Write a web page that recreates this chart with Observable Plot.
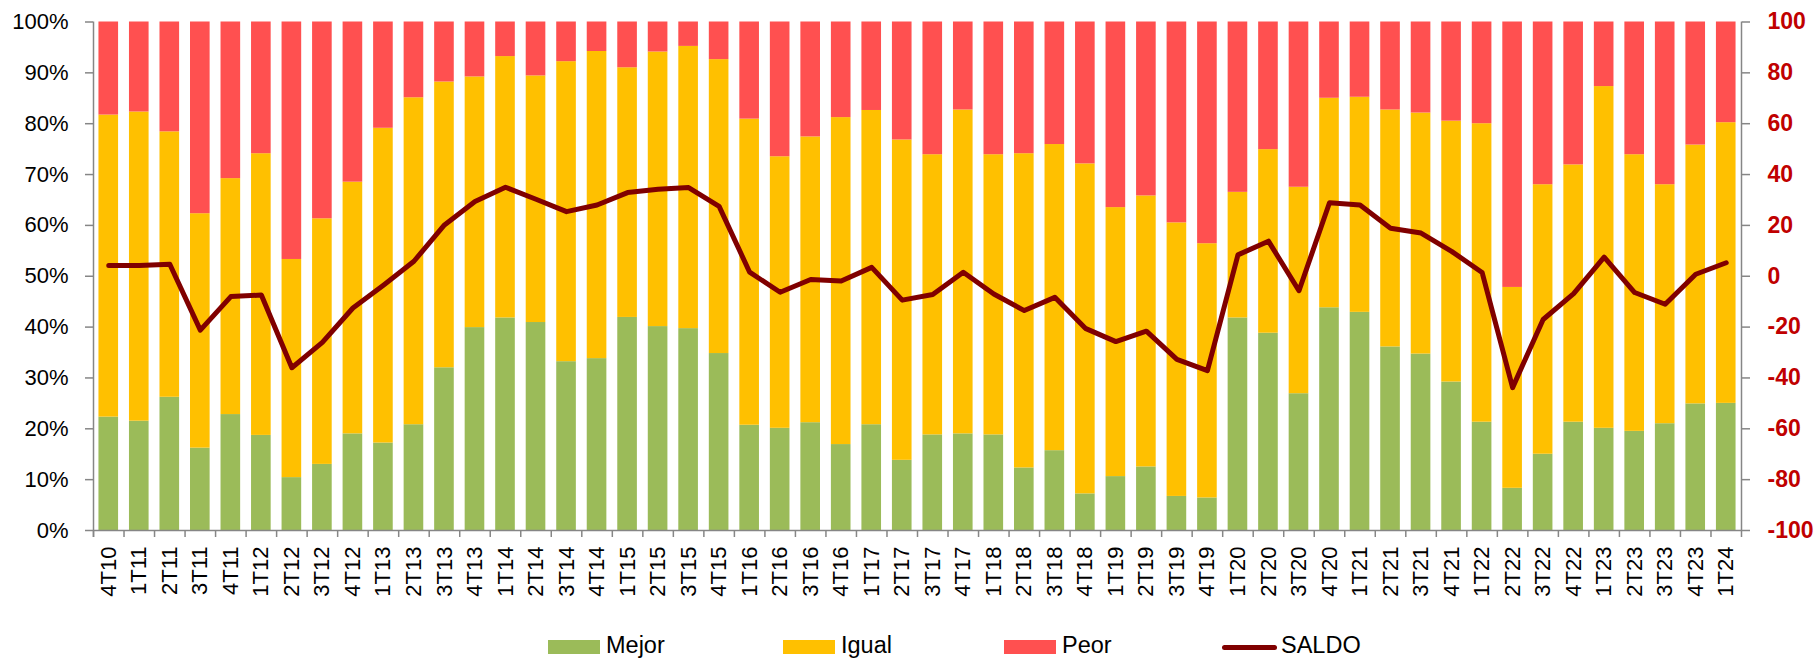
<!DOCTYPE html>
<html>
<head>
<meta charset="utf-8">
<script src="https://cdn.jsdelivr.net/npm/d3@7"></script>
<script src="https://cdn.jsdelivr.net/npm/@observablehq/plot@0.6"></script>
<style>
  html, body { margin: 0; padding: 0; background: #fff; }
  #chart svg { display: block; }
  #legend { position: relative; width: 1817px; height: 30px; font-family: "Liberation Sans", Arial, sans-serif; overflow: hidden; }
  #legend .sw { position: absolute; top: 12px; width: 52px; height: 14px; }
  #legend .ln { position: absolute; top: 17px; width: 55px; height: 5px; border-radius: 3px; background: #800000; }
  #legend .tx { position: absolute; top: 4.5px; font-size: 23.5px; line-height: 24px; color: #000; white-space: nowrap; }
</style>
</head>
<body>
<div id="chart"></div>
<div id="legend">
  <div class="sw" style="left:548px;background:#9BBB59"></div><div class="tx" style="left:606px">Mejor</div>
  <div class="sw" style="left:783px;background:#FFC000"></div><div class="tx" style="left:841px">Igual</div>
  <div class="sw" style="left:1004px;background:#FF5050"></div><div class="tx" style="left:1062px">Peor</div>
  <div class="ln" style="left:1222px"></div><div class="tx" style="left:1281px">SALDO</div>
</div>
<script>
const quarters = ["4T10","1T11","2T11","3T11","4T11","1T12","2T12","3T12","4T12","1T13","2T13","3T13","4T13","1T14","2T14","3T14","4T14","1T15","2T15","3T15","4T15","1T16","2T16","3T16","4T16","1T17","2T17","3T17","4T17","1T18","2T18","3T18","4T18","1T19","2T19","3T19","4T19","1T20","2T20","3T20","4T20","1T21","2T21","3T21","4T21","1T22","2T22","3T22","4T22","1T23","2T23","3T23","4T23","1T24"];
const mejor = [22.3,21.5,26.2,16.2,22.8,18.7,10.4,13.0,19.0,17.2,20.8,32.0,39.9,41.8,40.9,33.2,33.8,41.9,40.1,39.7,34.8,20.7,20.1,21.2,16.9,20.8,13.8,18.8,19.0,18.8,12.3,15.7,7.2,10.6,12.5,6.7,6.4,41.8,38.8,26.9,43.8,42.9,36.1,34.7,29.2,21.3,8.3,15.0,21.3,20.1,19.5,21.0,24.9,25.0];
const igual = [59.4,60.8,52.2,46.1,46.4,55.4,42.9,48.3,49.5,61.9,64.3,56.2,49.3,51.4,48.5,59.0,60.4,49.1,54.0,55.5,57.8,60.2,53.4,56.2,64.3,61.8,63.0,55.1,63.7,55.1,61.8,60.2,64.9,52.9,53.3,53.8,50.0,24.7,36.1,40.6,41.2,42.3,46.6,47.4,51.3,58.7,39.5,53.0,50.6,67.2,54.4,47.0,50.9,55.2];
const peor = [18.3,17.7,21.6,37.7,30.8,25.9,46.7,38.7,31.5,20.9,14.9,11.8,10.8,6.8,10.6,7.8,5.8,9.0,5.9,4.8,7.4,19.1,26.5,22.6,18.8,17.4,23.2,26.1,17.3,26.1,25.9,24.1,27.9,36.5,34.2,39.5,43.6,33.5,25.1,32.5,15.0,14.8,17.3,17.9,19.5,20.0,52.2,32.0,28.1,12.7,26.1,32.0,24.2,19.8];
const saldo = [4.2,4.2,4.7,-21.2,-8.0,-7.4,-36.0,-26.0,-12.5,-3.5,5.9,20.2,29.4,35.0,30.3,25.4,28.0,32.9,34.2,34.9,27.5,1.6,-6.3,-1.3,-1.9,3.5,-9.4,-7.2,1.6,-7.0,-13.5,-8.3,-20.5,-25.7,-21.6,-32.7,-37.1,8.4,13.8,-5.7,28.9,28.0,18.9,17.0,9.8,1.5,-43.8,-17.0,-6.8,7.5,-6.4,-11.0,0.8,5.3];
const series = ["Mejor","Igual","Peor"];
const seriesColors = ["#9BBB59","#FFC000","#FF5050"];
const leftTicks = [0,10,20,30,40,50,60,70,80,90,100];

const W = 1817, H = 628, mL = 93, mR = 76, mT = 21.5, mB = 98;
const step = (W - mL - mR) / quarters.length;
const axisGray = "#868686";

const stacked = [];
quarters.forEach((q, i) => {
  stacked.push({q, cat: "Mejor", v: mejor[i]});
  stacked.push({q, cat: "Igual", v: igual[i]});
  stacked.push({q, cat: "Peor", v: peor[i]});
});
const lineData = quarters.map((q, i) => ({q, s: saldo[i]}));
const last = quarters[quarters.length - 1];

const chart = Plot.plot({
  width: W, height: H,
  marginLeft: mL, marginRight: mR, marginTop: mT, marginBottom: mB,
  style: {fontFamily: "'Liberation Sans', Arial, sans-serif", background: "#fff"},
  x: {domain: quarters, paddingInner: 0.357, paddingOuter: 0.1785, round: false, label: null},
  y: {domain: [0, 100], label: null},
  color: {domain: series, range: seriesColors},
  marks: [
    Plot.barY(stacked, {x: "q", y: "v", z: "cat", fill: "cat", order: series}),
    Plot.line(lineData, {x: "q", y: d => (d.s + 100) / 2, stroke: "#800000", strokeWidth: 5, strokeLinejoin: "round", strokeLinecap: "round"}),
    // left and right axis lines
    Plot.ruleX([quarters[0]], {x: d => d, dx: -step / 2, y1: 0, y2: 100, insetTop: 7, stroke: axisGray, strokeWidth: 1.5}),
    Plot.ruleX([last], {x: d => d, dx: step / 2, y1: 0, y2: 100, insetTop: 7, stroke: axisGray, strokeWidth: 1.5}),
    // bottom axis line
    Plot.ruleY([0], {stroke: axisGray, strokeWidth: 1.5}),
    // category boundary ticks
    Plot.ruleX(quarters, {x: d => d, dx: -step / 2, y1: 0, y2: 0, insetTop: 7, stroke: axisGray, strokeWidth: 1.5}),
    Plot.axisX({tickSize: 0, tickPadding: 16, tickRotate: -90, fontSize: 22, fill: "#000"}),
    Plot.axisY({anchor: "left", ticks: leftTicks, tickSize: 8, tickPadding: 17, fontSize: 22, stroke: axisGray, strokeWidth: 1.5, fill: "#000", tickFormat: d => d + "%"}),
    Plot.axisY({anchor: "right", ticks: leftTicks, tickSize: 8, tickPadding: 18, fontSize: 23, fontWeight: "bold", stroke: axisGray, strokeWidth: 1.5, fill: "#C00000", tickFormat: d => String(d * 2 - 100)})
  ]
});
document.getElementById("chart").appendChild(chart);
</script>
</body>
</html>
